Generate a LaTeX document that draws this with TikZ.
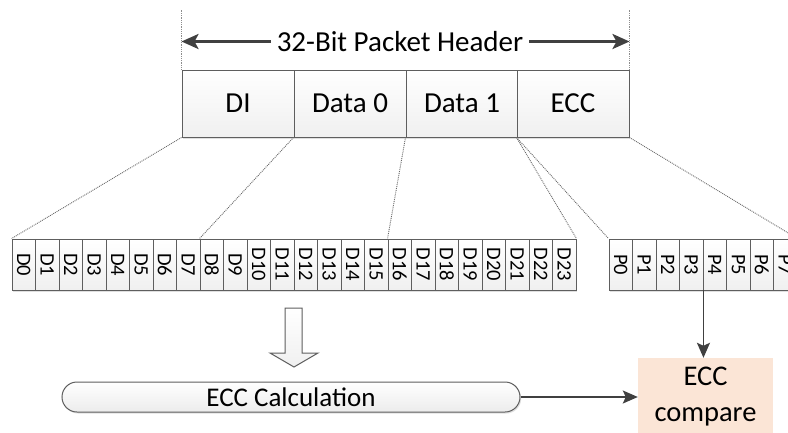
\documentclass[tikz,border=0pt]{standalone}
\usepackage{fontspec}
\setmainfont{Carlito}
\usetikzlibrary{arrows.meta,shadows}
\definecolor{edge}{HTML}{5E5E5E}
\definecolor{ink}{HTML}{404040}
\definecolor{peach}{HTML}{FBE5D6}
\begin{document}
\begin{tikzpicture}[x=1pt,y=-1pt,
  softshadow/.style={drop shadow={shadow xshift=1.2pt,shadow yshift=-1.5pt,opacity=0.25,fill=gray}},
  field/.style={draw=edge, line width=1pt, top color=white, bottom color=gray!12,
    minimum width=112pt, minimum height=67pt, inner sep=0pt, softshadow,
    font=\fontsize{29}{32}\selectfont},
  bitcell/.style={draw=edge, line width=0.9pt, top color=white, bottom color=gray!12,
    minimum width=23.5pt, minimum height=51pt, inner sep=0pt, softshadow,
    font=\fontsize{20.5}{22}\selectfont},
  fan/.style={densely dotted, ink!80, line width=0.9pt},
  guide/.style={densely dotted, ink!60, line width=0.8pt},
  link/.style={draw=ink, line width=1.8pt, -{Stealth[length=15pt,width=13pt,inset=3pt]}},
  span/.style={draw=ink, line width=2.8pt,
    {Stealth[length=17pt,width=15pt,inset=4pt]}-{Stealth[length=17pt,width=15pt,inset=4pt]}},
]
\clip (0,0) rectangle (788,432);
\fill[white] (0,0) rectangle (788,432);

% packet header fields
\node[field] (hdi)  at (238,103.5) {DI};
\node[field] (hd0)  at (350,103.5) {Data 0};
\node[field] (hd1)  at (462,103.5) {Data 1};
\node[field] (hecc) at (573,103.5) {ECC};

% header extent markers and span arrow
\draw[guide] (hdi.north west) -- ++(0,-60);
\draw[guide] (hecc.north east) -- ++(0,-60);
\path (hdi.north west) ++(0,-28) coordinate (al);
\path (hecc.north east) ++(0,-28) coordinate (ar);
\draw[span] (al) -- (ar);
\node[fill=white, inner xsep=6pt, inner ysep=2pt, font=\fontsize{29}{32}\selectfont]
  (title) at (400,42) {32-Bit Packet Header};

% data bits D0..D23
\foreach \i in {0,...,23}
  \node[bitcell] (d\i) at ({23.75+23.5*\i},264.5) {\rotatebox{-90}{D\i}};

% parity bits P0..P7 (the row runs past the right edge)
\foreach \i in {0,...,7}
  \node[bitcell] (p\i) at ({620.75+23.5*\i},264.5) {\rotatebox{-90}{P\i}};

% fan-out of header fields onto bits
\draw[fan] (hdi.south west) -- (d0.north west);
\draw[fan] (hd0.south west) -- (d8.north west);
\draw[fan] (hd1.south west) -- (d16.north west);
\draw[fan] (hecc.south west) -- (d23.north east);
\draw[fan] (hecc.south west) -- (p0.north west);
\draw[fan] (hecc.south east) -- (p7.north east);

% hollow block arrow into the calculation
\draw[edge, line width=1pt, top color=white, bottom color=gray!12]
  (285,308) -- (302,308) -- (302,353) -- (318,353) -- (294,367)
  -- (270,353) -- (285,353) -- cycle;

% ECC calculation and comparison
\node[draw=edge, line width=1pt, rounded corners=15pt, top color=white, bottom color=gray!15,
  minimum width=458pt, minimum height=30pt, inner sep=0pt, softshadow,
  font=\fontsize{27}{32}\selectfont] (calc) at (291,397) {ECC Calculation};
\node[fill=peach, minimum width=135pt, minimum height=78pt, inner sep=0pt, align=center,
  font=\fontsize{28.5}{36}\selectfont] (cmp) at (705.5,397) {ECC\\compare};

\draw[link] (calc.east) -- (cmp.west);
\draw[link] (p3.south east) -- (p3.south east |- cmp.north);
\end{tikzpicture}
\end{document}
